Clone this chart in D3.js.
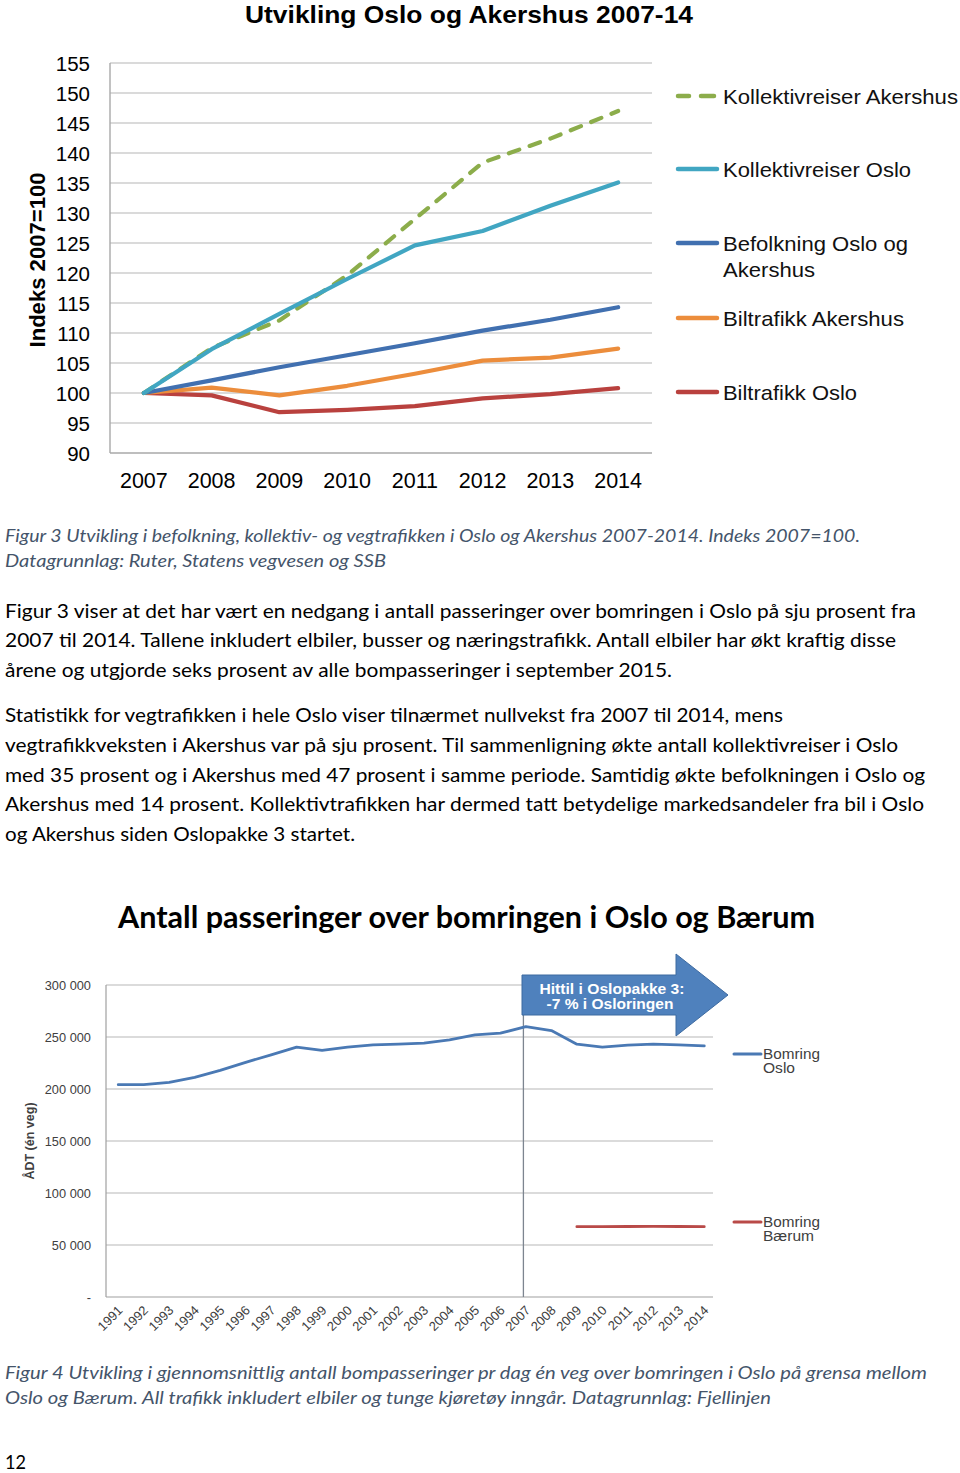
<!DOCTYPE html>
<html>
<head>
<meta charset="utf-8">
<script src="https://cdn.jsdelivr.net/npm/d3@7"></script>
<style>
  html, body { margin: 0; padding: 0; background: #fff; }
  svg { display: block; }
</style>
</head>
<body>
<svg id="page" width="960" height="1473"></svg>
<script>
// ---------- Chart 1 data ----------
const years1 = ["2007","2008","2009","2010","2011","2012","2013","2014"];
const yTicks1 = [90,95,100,105,110,115,120,125,130,135,140,145,150,155];
const kollAkershus = [100,107.5,112.1,119.6,129,138.4,142.4,147];
const kollOslo     = [100,107.3,113.2,119,124.6,127,131.2,135.1];
const befolkning   = [100,102.1,104.3,106.3,108.3,110.4,112.2,114.3];
const bilAkershus  = [100,100.9,99.6,101.2,103.2,105.4,105.9,107.4];
const bilOslo      = [100,99.6,96.8,97.2,97.8,99.1,99.8,100.8];
const seriesNames1 = ["Kollektivreiser Akershus","Kollektivreiser Oslo","Befolkning Oslo og Akershus","Biltrafikk Akershus","Biltrafikk Oslo"];

// ---------- Chart 2 data ----------
const years2 = ["1991","1992","1993","1994","1995","1996","1997","1998","1999","2000","2001","2002","2003","2004","2005","2006","2007","2008","2009","2010","2011","2012","2013","2014"];
const bomOslo = [204200,204200,206400,211200,217900,225600,232900,240300,237100,240300,242500,243100,244100,247300,252100,253700,260000,256200,243100,240300,242200,243100,242500,241500];
const bomBaerumYears = ["2009","2010","2011","2012","2013","2014"];
const bomBaerum = [67600,67600,67800,68000,67800,67600];
const yTicks2 = [0,50000,100000,150000,200000,250000,300000];
const seriesNames2 = ["Bomring Oslo","Bomring Bærum"];

// ---------- Text ----------
const caption3 = ["Figur 3 Utvikling i befolkning, kollektiv- og vegtrafikken i Oslo og Akershus 2007-2014. Indeks 2007=100.",
                  "Datagrunnlag: Ruter, Statens vegvesen og SSB"];
const para1 = ["Figur 3 viser at det har vært en nedgang i antall passeringer over bomringen i Oslo på sju prosent fra",
               "2007 til 2014. Tallene inkludert elbiler, busser og næringstrafikk. Antall elbiler har økt kraftig disse",
               "årene og utgjorde seks prosent av alle bompasseringer i september 2015."];
const para2 = ["Statistikk for vegtrafikken i hele Oslo viser tilnærmet nullvekst fra 2007 til 2014, mens",
               "vegtrafikkveksten i Akershus var på sju prosent. Til sammenligning økte antall kollektivreiser i Oslo",
               "med 35 prosent og i Akershus med 47 prosent i samme periode. Samtidig økte befolkningen i Oslo og",
               "Akershus med 14 prosent. Kollektivtrafikken har dermed tatt betydelige markedsandeler fra bil i Oslo",
               "og Akershus siden Oslopakke 3 startet."];
const caption4 = ["Figur 4 Utvikling i gjennomsnittlig antall bompasseringer pr dag én veg over bomringen i Oslo på grensa mellom",
                  "Oslo og Bærum. All trafikk inkludert elbiler og tunge kjøretøy inngår. Datagrunnlag: Fjellinjen"];

const svg = d3.select("#page");
svg.append("rect").attr("width",960).attr("height",1473).attr("fill","#fff");

const ARIAL = "'Liberation Sans', Arial, sans-serif";
const BODY = "Lato, 'Open Sans', sans-serif";

// ================= Chart 1 =================
const c1 = svg.append("g");
c1.append("text").attr("x",469).attr("y",14).attr("text-anchor","middle").attr("dominant-baseline","central")
  .attr("font-family",ARIAL).attr("font-weight","bold").attr("font-size",24).attr("fill","#000")
  .attr("textLength",448).attr("lengthAdjust","spacingAndGlyphs")
  .text("Utvikling  Oslo og Akershus  2007-14");

const x1 = d3.scaleBand().domain(years1).range([110,652]);
const y1 = d3.scaleLinear().domain([90,155]).range([453,63]);
const cx1 = d => x1(d) + x1.bandwidth()/2;

c1.append("g").selectAll("line").data(yTicks1.filter(t=>t>90)).join("line")
  .attr("x1",110).attr("x2",652).attr("y1",d=>y1(d)).attr("y2",d=>y1(d))
  .attr("stroke","#b5b5b5").attr("stroke-width",1.2);
c1.append("line").attr("x1",110).attr("x2",652).attr("y1",y1(90)).attr("y2",y1(90)).attr("stroke","#a8a8a8").attr("stroke-width",1.4);
c1.append("line").attr("x1",110).attr("x2",110).attr("y1",y1(155)).attr("y2",y1(90)).attr("stroke","#a8a8a8").attr("stroke-width",1.4);

const yAxis1 = d3.axisLeft(y1).tickValues(yTicks1).tickSize(0).tickPadding(0);
const ya1 = c1.append("g").attr("transform","translate(90,0)").call(yAxis1);
ya1.select(".domain").remove();
ya1.selectAll("text").attr("font-family",ARIAL).attr("font-size",20.5).attr("fill","#000").attr("dy","0.35em");

const xAxis1 = d3.axisBottom(x1).tickSize(0).tickPadding(0);
const xa1 = c1.append("g").attr("transform","translate(0,480)").call(xAxis1);
xa1.select(".domain").remove();
xa1.selectAll("text").attr("font-family",ARIAL).attr("font-size",21.5).attr("fill","#000").attr("dy","0.35em");

c1.append("text").attr("transform","translate(37,260) rotate(-90)").attr("text-anchor","middle")
  .attr("dominant-baseline","central").attr("font-family",ARIAL).attr("font-weight","bold").attr("font-size",22)
  .attr("fill","#000").attr("textLength",175).attr("lengthAdjust","spacingAndGlyphs").text("Indeks 2007=100");

const colors1 = ["#8cad4b","#41a6c2","#4170b0","#ec8d3c","#b9413e"];
const data1 = [kollAkershus,kollOslo,befolkning,bilAkershus,bilOslo];
const line1 = d3.line().x((d,i)=>cx1(years1[i])).y(d=>y1(d));
const drawOrder = [4,3,2,0,1];
drawOrder.forEach(k=>{
  c1.append("path").datum(data1[k]).attr("d",line1).attr("fill","none")
    .attr("stroke",colors1[k]).attr("stroke-width",4.2).attr("stroke-linejoin","round").attr("stroke-linecap","round")
    .attr("stroke-dasharray", k===0 ? "11,11" : null);
});

// legend chart 1
const leg1Y = [96,169,243,318,392];
const leg1Lines = [["Kollektivreiser Akershus"],["Kollektivreiser Oslo"],["Befolkning Oslo og","Akershus"],["Biltrafikk Akershus"],["Biltrafikk Oslo"]];
const leg1Widths = [[235],[188],[185,92],[181],[134]];
seriesNames1.forEach((n,k)=>{
  const g = c1.append("g");
  if (k===0) {
    g.append("line").attr("x1",678).attr("x2",689).attr("y1",leg1Y[k]).attr("y2",leg1Y[k]);
    g.append("line").attr("x1",701).attr("x2",714).attr("y1",leg1Y[k]).attr("y2",leg1Y[k]);
  } else {
    g.append("line").attr("x1",678).attr("x2",717).attr("y1",leg1Y[k]).attr("y2",leg1Y[k]);
  }
  g.selectAll("line").attr("stroke",colors1[k]).attr("stroke-width",4.5).attr("stroke-linecap","round");
  leg1Lines[k].forEach((p,j)=>{
    g.append("text").attr("x",723).attr("y",leg1Y[k]+j*26).attr("dominant-baseline","central")
      .attr("font-family",ARIAL).attr("font-size",21).attr("fill","#111")
      .attr("textLength",leg1Widths[k][j]).attr("lengthAdjust","spacingAndGlyphs").text(p);
  });
});

// ================= Text blocks =================
function textLines(lines, ys, widths, opts) {
  lines.forEach((t,i)=>{
    svg.append("text").attr("x",opts.x||5).attr("y",ys[i]).attr("dominant-baseline","central")
      .attr("font-family",BODY).attr("font-size",opts.size).attr("font-style",opts.italic?"italic":"normal")
      .attr("font-weight",opts.bold?"bold":"normal").attr("fill",opts.fill)
      .attr("textLength",widths[i]).attr("lengthAdjust","spacingAndGlyphs").text(t);
  });
}
textLines(caption3,[535,560],[855,381],{size:18,italic:true,fill:"#44546a"});
textLines(para1,[610,639,669],[911,891,667],{size:20,fill:"#000"});
textLines(para2,[714,744,774,803,833],[778,893,920,919,350],{size:20,fill:"#000"});
textLines(["Antall passeringer over bomringen i Oslo og Bærum"],[916],[697],{x:118,size:30,bold:true,fill:"#000"});
textLines(caption4,[1372,1397],[922,766],{size:18,italic:true,fill:"#44546a"});
textLines(["12"],[1461],[21],{size:19,fill:"#000"});

// ================= Chart 2 =================
const c2 = svg.append("g");
const x2 = d3.scaleBand().domain(years2).range([105.5,717]);
const y2 = d3.scaleLinear().domain([0,300000]).range([1297,985]);
const cx2 = d => x2(d) + x2.bandwidth()/2;

c2.append("g").selectAll("line").data(yTicks2.filter(t=>t>0)).join("line")
  .attr("x1",106).attr("x2",713).attr("y1",d=>y2(d)).attr("y2",d=>y2(d))
  .attr("stroke","#b8b8b8").attr("stroke-width",1.1);
c2.append("line").attr("x1",106).attr("x2",713).attr("y1",y2(0)).attr("y2",y2(0)).attr("stroke","#a0a0a0").attr("stroke-width",1.2);
c2.append("line").attr("x1",106).attr("x2",106).attr("y1",y2(300000)).attr("y2",y2(0)).attr("stroke","#a0a0a0").attr("stroke-width",1.2);
c2.append("line").attr("x1",cx2("2007")-2.5).attr("x2",cx2("2007")-2.5).attr("y1",y2(300000)).attr("y2",y2(0))
  .attr("stroke","#7d8590").attr("stroke-width",1.3);

const yAxis2 = d3.axisLeft(y2).tickValues(yTicks2).tickSize(0).tickPadding(0)
  .tickFormat(d => d===0 ? "-" : d3.format(",")(d).replace(/,/g," "));
const ya2 = c2.append("g").attr("transform","translate(91,0)").call(yAxis2);
ya2.select(".domain").remove();
ya2.selectAll("text").attr("font-family",ARIAL).attr("font-size",12.8).attr("fill","#404040").attr("dy","0.35em");

const xAxis2 = d3.axisBottom(x2).tickSize(0).tickPadding(0);
const xa2 = c2.append("g").attr("transform","translate(0,1306)").call(xAxis2);
xa2.select(".domain").remove();
xa2.selectAll("text").attr("font-family",ARIAL).attr("font-size",13).attr("fill","#404040")
  .attr("text-anchor","end").attr("dy","0.35em").attr("transform","translate(2,2) rotate(-45)");

c2.append("text").attr("transform","translate(30,1141) rotate(-90)").attr("text-anchor","middle")
  .attr("dominant-baseline","central").attr("font-family",ARIAL).attr("font-weight","bold").attr("font-size",12.5)
  .attr("fill","#404040").text("ÅDT (én veg)");

const colors2 = ["#4a79b4","#b94a48"];
const line2 = d3.line().x(d=>cx2(d[0])).y(d=>y2(d[1]));
c2.append("path").datum(years2.map((yr,i)=>[yr,bomOslo[i]])).attr("d",line2).attr("fill","none")
  .attr("stroke",colors2[0]).attr("stroke-width",2.8).attr("stroke-linejoin","round").attr("stroke-linecap","round");
c2.append("path").datum(bomBaerumYears.map((yr,i)=>[yr,bomBaerum[i]])).attr("d",line2).attr("fill","none")
  .attr("stroke",colors2[1]).attr("stroke-width",2.8).attr("stroke-linejoin","round").attr("stroke-linecap","round");

// Arrow annotation
c2.append("polygon")
  .attr("points",[[522,975],[676,975],[676,954],[728,995],[676,1036],[676,1015],[522,1015]].map(p=>p.join(",")).join(" "))
  .attr("fill","#4f81bd").attr("stroke","#3d6aa0").attr("stroke-width",1);
[["Hittil i Oslopakke 3:",612,989,145],["-7 %  i Osloringen",610,1004,127]].forEach(t=>{
  c2.append("text").attr("x",t[1]).attr("y",t[2]).attr("text-anchor","middle").attr("dominant-baseline","central")
    .attr("font-family",ARIAL).attr("font-weight","bold").attr("font-size",14).attr("fill","#fff")
    .attr("textLength",t[3]).attr("lengthAdjust","spacingAndGlyphs").text(t[0]);
});

// legend chart 2
const leg2Y = [1054,1222];
const leg2Widths = [[57,32],[57,51]];
seriesNames2.forEach((n,k)=>{
  c2.append("line").attr("x1",734).attr("x2",761).attr("y1",leg2Y[k]).attr("y2",leg2Y[k])
    .attr("stroke",colors2[k]).attr("stroke-width",3).attr("stroke-linecap","round");
  n.split(" ").forEach((p,j)=>{
    c2.append("text").attr("x",763).attr("y",leg2Y[k]+j*14).attr("dominant-baseline","central")
      .attr("font-family",ARIAL).attr("font-size",14).attr("fill","#404040")
      .attr("textLength",leg2Widths[k][j]).attr("lengthAdjust","spacingAndGlyphs").text(p);
  });
});
</script>
</body>
</html>
